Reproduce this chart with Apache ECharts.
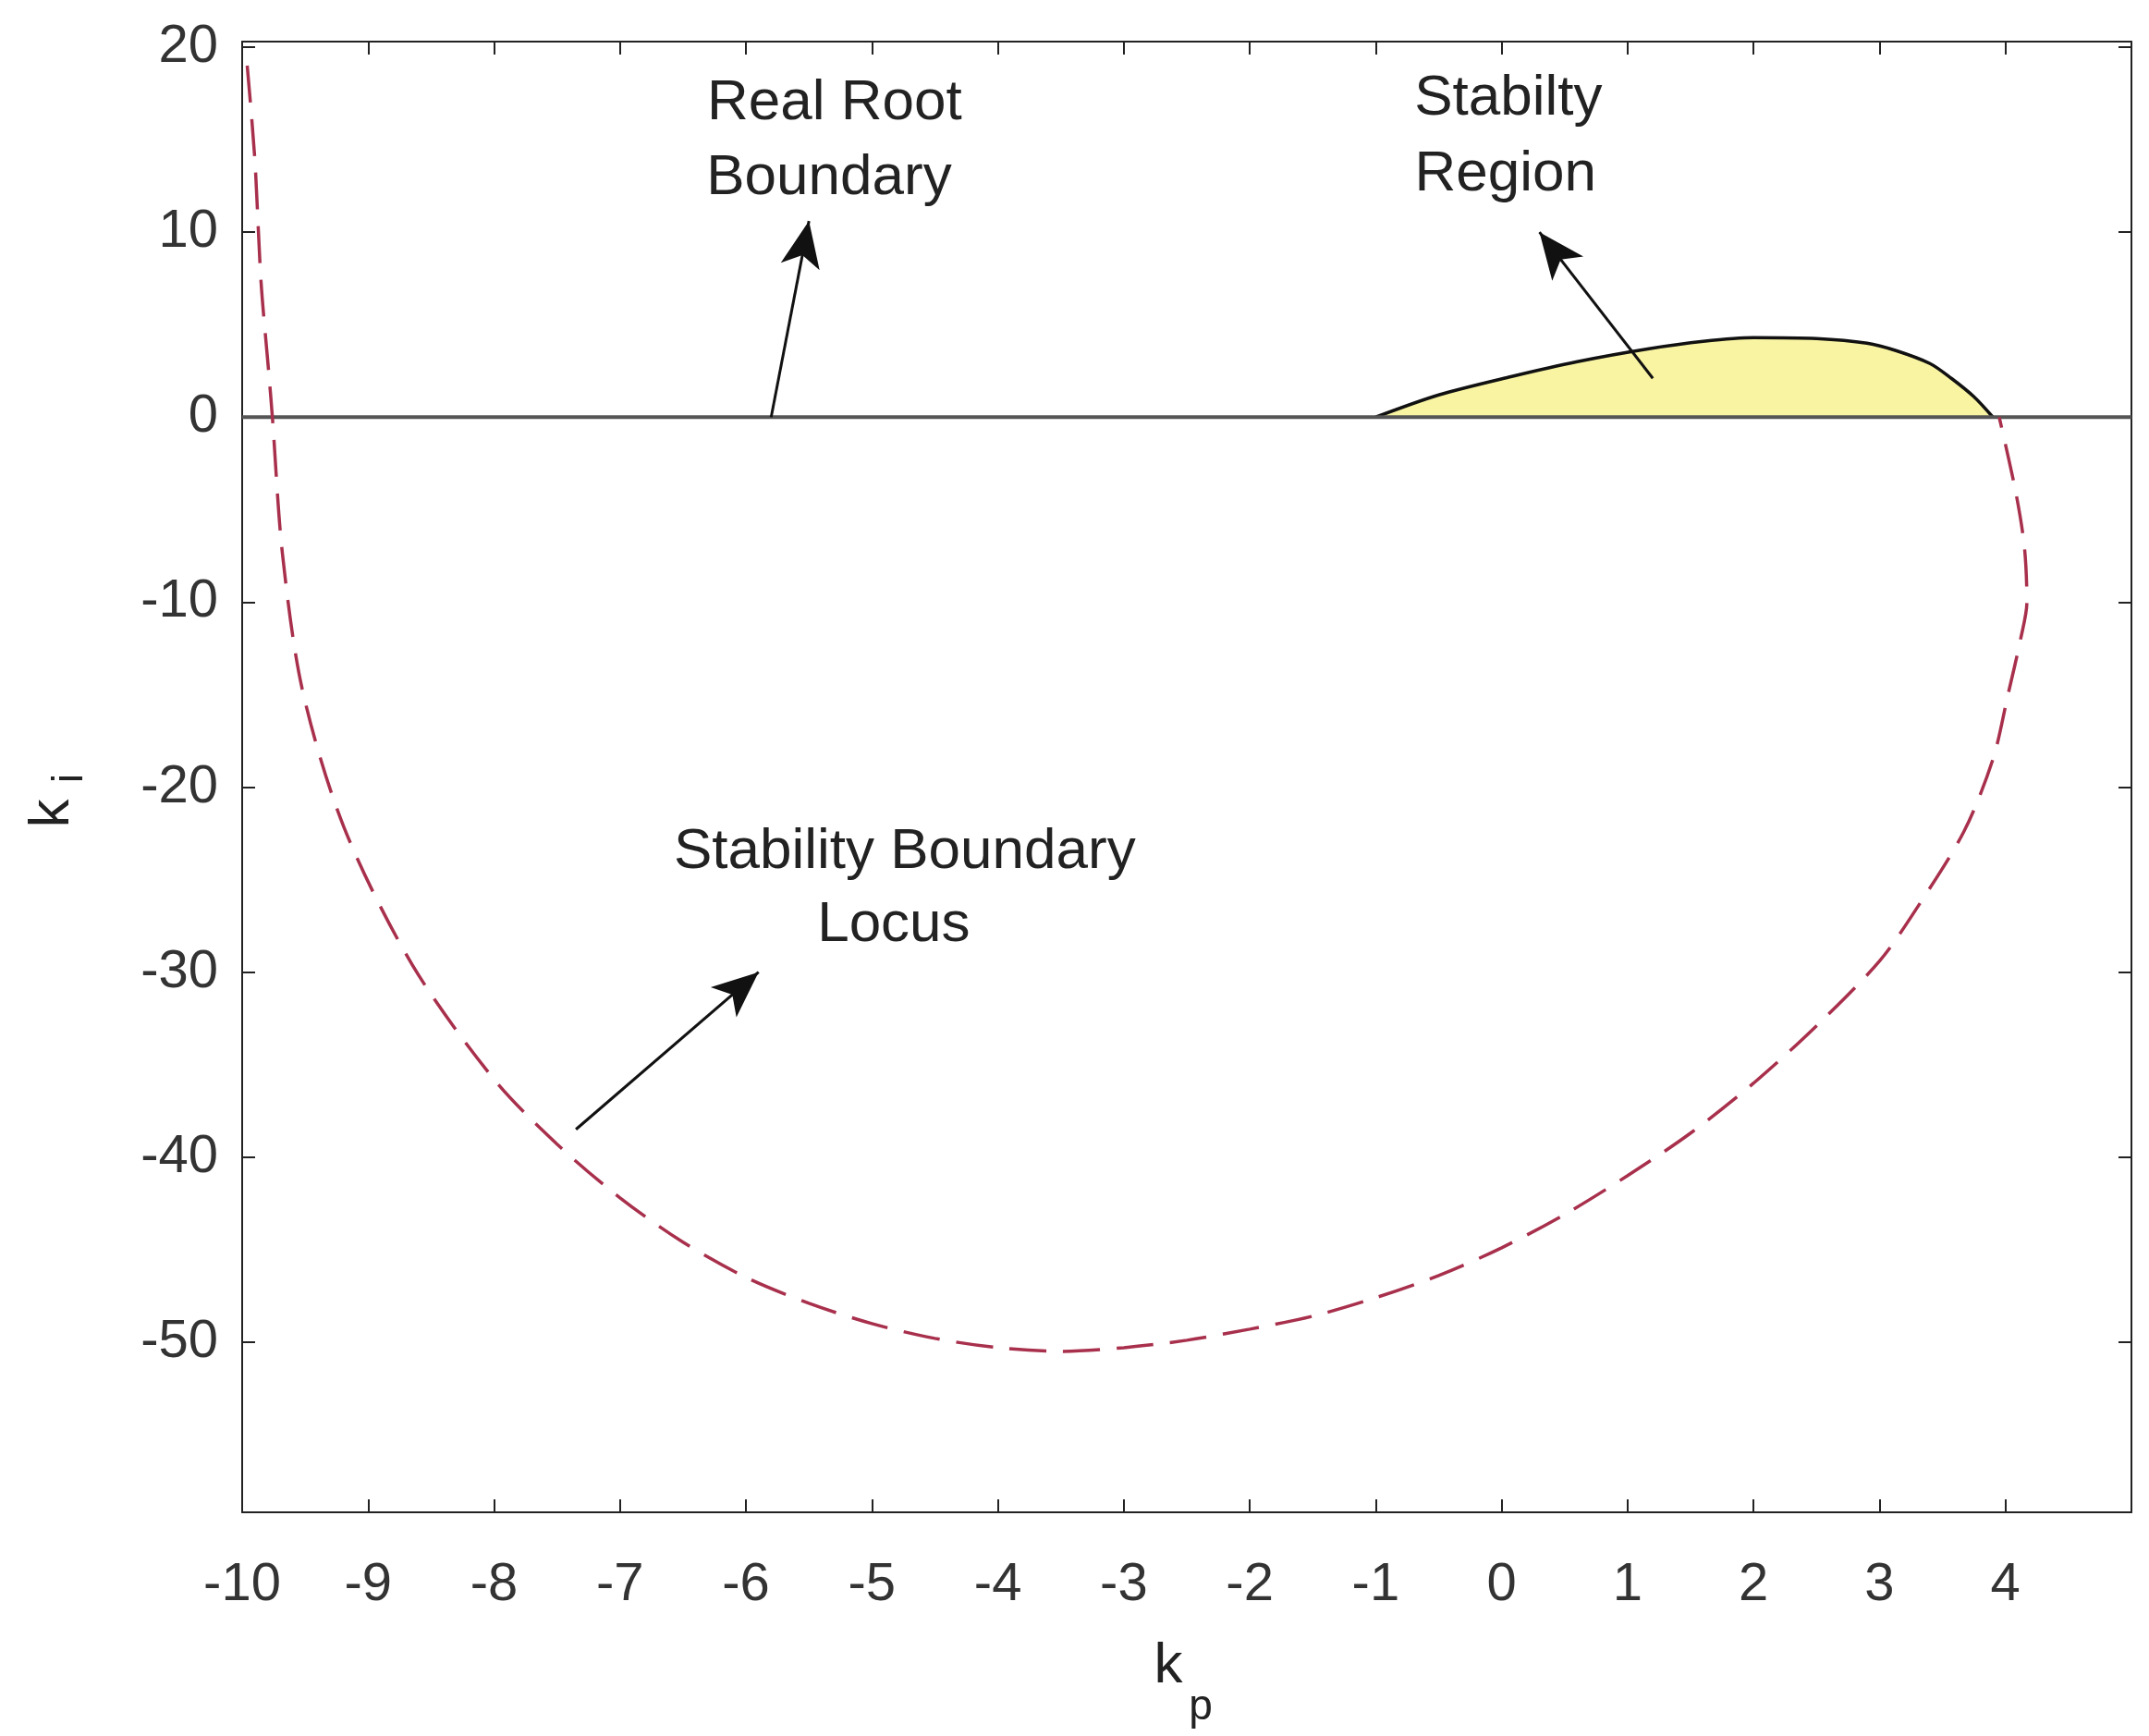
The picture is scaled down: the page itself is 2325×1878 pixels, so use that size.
<!DOCTYPE html>
<html>
<head>
<meta charset="utf-8">
<script src="https://cdn.jsdelivr.net/npm/echarts@6/dist/echarts.min.js"></script>
<style>html,body{margin:0;background:#fff}#chart{width:2325px;height:1878px}</style>
</head>
<body>
<div id="chart"></div>
<script>
// stability boundary locus (kp, ki)
const locusKp = [-9.96, -9.9, -9.85, -9.79, -9.76, -9.68, -9.52, -9.19, -8.65, -8.0, -7.5, -7.0, -6.5, -6.0, -5.5, -5.0, -4.5, -4.0, -3.5, -3.0, -2.5, -2.0, -1.5, -1.0, -0.5, 0.0, 0.5, 1.0, 1.5, 2.0, 2.5, 3.0, 3.3, 3.67, 3.9, 4.02, 4.12, 4.17, 4.15, 4.08, 3.95];
const locusKi = [19, 14, 7.3, 2.5, 0, -7.4, -14.8, -22.2, -29.6, -35.8, -39.3, -42.2, -44.6, -46.5, -47.9, -49.0, -49.8, -50.3, -50.5, -50.3, -49.9, -49.3, -48.6, -47.6, -46.4, -44.9, -43.1, -41.0, -38.7, -36.0, -32.9, -29.4, -26.5, -22.4, -18.5, -15.0, -12.0, -10.0, -7.0, -4.0, 0];
// stability region upper edge
const regionKp = [-1.0, -0.5, 0.08, 0.6, 1.17, 1.6, 2.0, 2.5, 2.9, 3.13, 3.4, 3.57, 3.75, 3.9];
const regionKi = [0, 1.2, 2.2, 3.0, 3.7, 4.1, 4.3, 4.25, 4.0, 3.6, 2.9, 2.1, 1.1, 0];
// real root boundary
const realKp = [-10, 5];
const realKi = [0, 0];
const xTicks = [-10, -9, -8, -7, -6, -5, -4, -3, -2, -1, 0, 1, 2, 3, 4];
const yTicks = [-50, -40, -30, -20, -10, 0, 10, 20];

const zip = (a, b) => a.map((v, i) => [v, b[i]]);
const font = 'Liberation Sans, Arial, sans-serif';
const S = 1.4875;

const chart = echarts.init(document.getElementById('chart'));
const axisCommon = {
  type: 'value', splitLine: {show: false},
  axisLine: {show: true, onZero: false, lineStyle: {color: '#222', width: 2}},
  axisTick: {show: true, inside: true, length: 14, lineStyle: {color: '#222', width: 2}}
};
function arrow(from, to) {
  return [{coord: from, symbol: 'none'}, {coord: to, symbol: 'arrow'}];
}
const text = (t, x, y) => ({
  type: 'text', x: x * S, y: y * S,
  style: {text: t, font: '62px ' + font, fill: '#222', textAlign: 'center', textVerticalAlign: 'middle'}
});
const lbl = {fontSize: 58, color: '#333', fontFamily: font};

chart.setOption({
  animation: false,
  grid: {left: 262, right: 19, top: 45, bottom: 242},
  xAxis: [
    Object.assign({}, axisCommon, {min: -10, max: 5, position: 'bottom',
      axisTick: Object.assign({}, axisCommon.axisTick, {customValues: xTicks}),
      axisLabel: Object.assign({customValues: xTicks, margin: 50}, lbl)}),
    Object.assign({}, axisCommon, {min: -10, max: 5, position: 'top',
      axisTick: Object.assign({}, axisCommon.axisTick, {customValues: xTicks}),
      axisLabel: {show: false}})
  ],
  yAxis: [
    Object.assign({}, axisCommon, {min: -59.2, max: 20.3, position: 'left',
      axisTick: Object.assign({}, axisCommon.axisTick, {customValues: yTicks}),
      axisLabel: Object.assign({customValues: yTicks, margin: 26}, lbl)}),
    Object.assign({}, axisCommon, {min: -59.2, max: 20.3, position: 'right',
      axisTick: Object.assign({}, axisCommon.axisTick, {customValues: yTicks}),
      axisLabel: {show: false}})
  ],
  series: [
    {type: 'line', data: zip(regionKp, regionKi), showSymbol: false, smooth: 0.3,
      lineStyle: {color: '#111', width: 3.5}, areaStyle: {color: '#f7f07a', origin: 0}, z: 3},
    {type: 'line', data: zip(realKp, realKi), showSymbol: false,
      lineStyle: {color: '#555', width: 4}, z: 4,
      markLine: {silent: true, symbolSize: [32, 50], label: {show: false},
        lineStyle: {color: '#111', width: 3, type: 'solid'},
        data: [arrow([-5.8, 0], [-5.5, 10.6]), arrow([1.2, 2.1], [0.3, 10]), arrow([-7.35, -38.5], [-5.9, -30])]}},
    {type: 'line', data: zip(locusKp, locusKi), showSymbol: false, smooth: 0.3,
      lineStyle: {color: '#a8304c', width: 3.5, type: [40, 18]}, z: 5}
  ],
  graphic: [
    text('Real Root', 607, 75), text('Boundary', 603, 130),
    text('Stabilty', 1097, 72), text('Region', 1095, 127),
    text('Stability Boundary', 658, 620), text('Locus', 650, 673),
    {type: 'text', x: 57, y: 880, rotation: Math.PI / 2,
      style: {text: 'k', font: '62px ' + font, fill: '#222', textAlign: 'center', textVerticalAlign: 'middle'}},
    {type: 'text', x: 76, y: 842, rotation: Math.PI / 2,
      style: {text: 'i', font: '46px ' + font, fill: '#222', textAlign: 'center', textVerticalAlign: 'middle'}},
    {type: 'text', x: 1264, y: 1803,
      style: {text: 'k', font: '62px ' + font, fill: '#222', textAlign: 'center', textVerticalAlign: 'middle'}},
    {type: 'text', x: 1299, y: 1847,
      style: {text: 'p', font: '46px ' + font, fill: '#222', textAlign: 'center', textVerticalAlign: 'middle'}}
  ]
});
</script>
</body>
</html>
